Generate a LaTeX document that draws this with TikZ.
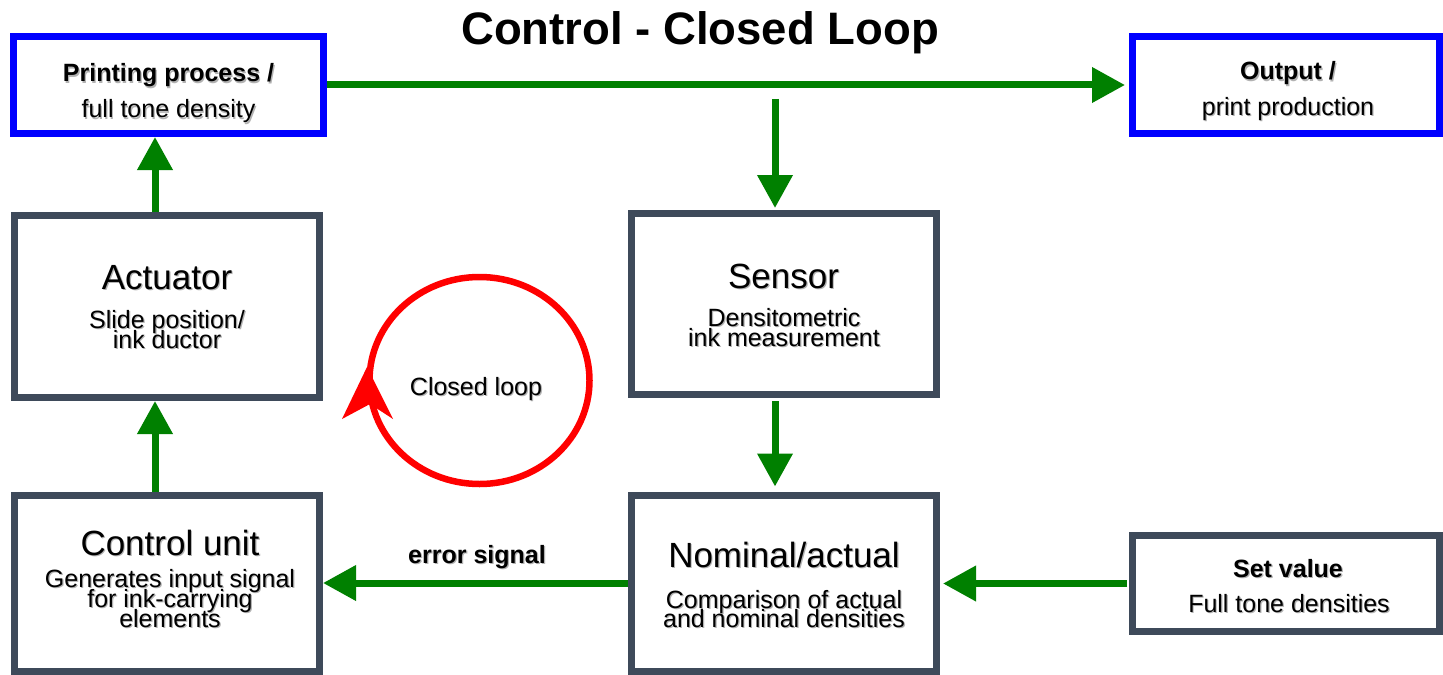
\documentclass[tikz,border=0pt]{standalone}
\usepackage{fontspec}
\setmainfont{Liberation Sans}
\usetikzlibrary{arrows.meta}
\definecolor{bgrey}{RGB}{62,74,90}
\definecolor{fgreen}{RGB}{0,128,0}
\newcommand\shd[1]{\makebox[0pt][l]{\kern0.6pt\raisebox{-0.6pt}{\textcolor{black!30}{#1}}}#1}
\newcommand\smallf{\fontsize{12.5}{15}\selectfont}
\newcommand\largef{\fontsize{17.5}{21}\selectfont}
\newcommand\titlef{\fontsize{22.75}{27}\selectfont\bfseries}
\begin{document}
\begin{tikzpicture}[x=0.5pt,y=-0.5pt,
  box/.style={draw=bgrey, line width=3.5pt, fill=white, inner sep=0pt, minimum width=152.5pt},
  bluebox/.style={draw=blue, line width=3.5pt, fill=white, inner sep=0pt, minimum width=155pt, minimum height=48.5pt},
  txt/.style={inner sep=0pt, anchor=base},
  flow/.style={draw=fgreen, line width=3.5pt, -{Triangle[length=16.5pt,width=17pt]}}]
\fill[white] (0,0) rectangle (1443,674);
\useasboundingbox (0,0) rectangle (1443,674);

\node[txt, font=\titlef] (title) at (700,45) {Control - Closed Loop};

\node[bluebox] (print) at (168.5,85) {};
\node[bluebox, minimum width=153.5pt] (output) at (1286,85) {};
\node[box, minimum height=91pt] (act) at (167,306.5) {};
\node[box, minimum height=90.5pt] (sens) at (784,304) {};
\node[box, minimum height=88pt] (ctrl) at (167,583) {};
\node[box, minimum height=88pt] (nom) at (784,583) {};
\node[box, minimum width=153.5pt, minimum height=48pt] (setv) at (1286,583.5) {};

\node[txt, font=\smallf\bfseries] (printA) at (168.5,82) {\shd{Printing process /}};
\node[txt, font=\smallf] (printB) at (168.5,118) {\shd{full tone density}};
\node[txt, font=\smallf\bfseries] (outA) at (1288,80) {\shd{Output /}};
\node[txt, font=\smallf] (outB) at (1288,115) {\shd{print production}};

\node[txt, font=\largef] (actA) at (167,289) {\shd{Actuator}};
\node[txt, font=\smallf] (actB) at (167,328) {\shd{Slide position/}};
\node[txt, font=\smallf] (actC) at (167,348) {\shd{ink ductor}};

\node[txt, font=\largef] (sensA) at (783.5,288) {\shd{Sensor}};
\node[txt, font=\smallf] (sensB) at (784,326) {\shd{Densitometric}};
\node[txt, font=\smallf] (sensC) at (784,346) {\shd{ink measurement}};

\node[txt, font=\largef] (ctrlA) at (170,555) {\shd{Control unit}};
\node[txt, font=\smallf] (ctrlB) at (170,587) {\shd{Generates input signal}};
\node[txt, font=\smallf] (ctrlC) at (170,607) {\shd{for ink-carrying}};
\node[txt, font=\smallf] (ctrlD) at (170,627) {\shd{elements}};

\node[txt, font=\largef] (nomA) at (784,567) {\shd{Nominal/actual}};
\node[txt, font=\smallf] (nomB) at (784,608) {\shd{Comparison of actual}};
\node[txt, font=\smallf] (nomC) at (784,627) {\shd{and nominal densities}};

\node[txt, font=\smallf\bfseries] (setA) at (1288,577) {\shd{Set value}};
\node[txt, font=\smallf] (setB) at (1289,612) {\shd{Full tone densities}};

\node[txt, font=\smallf\bfseries] (err) at (477,563) {\shd{error signal}};

\coordinate (colL) at (155,0);
\coordinate (colR) at (775,0);
\coordinate (tap) at (775,99);

\draw[flow, shorten >=2pt] (print) -- (output);
\draw[flow, shorten >=1pt] (tap) -- (tap |- sens.north);
\draw[flow, shorten <=1.5pt, shorten >=2.5pt] (sens.south -| colR) -- (nom.north -| colR);
\draw[flow, shorten <=1pt, shorten >=1.5pt] (setv.west) -- (nom.east |- setv.west);
\draw[flow] (nom.west) -- (ctrl.east);
\draw[flow] (ctrl.north -| colL) -- (act.south -| colL);
\draw[flow] (act.north -| colL) -- (print.south -| colL);

\coordinate (loopc) at (479.5,380.5);
\draw[red, line width=3.25pt] (loopc) ellipse [x radius=110, y radius=103.5];
\fill[red] (367,367) -- (393,419) -- (370,404) -- (342,419) -- cycle;
\node[txt, font=\smallf] (loopT) at (476,395) {\shd{Closed loop}};
\end{tikzpicture}
\end{document}
